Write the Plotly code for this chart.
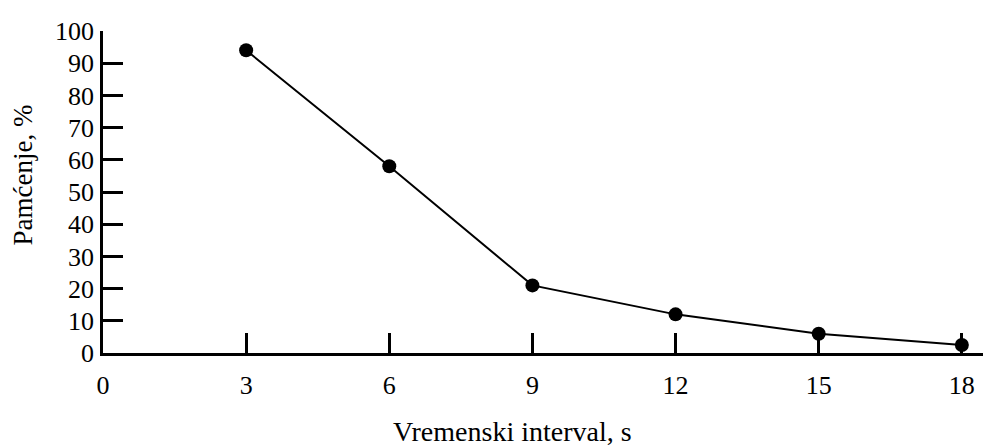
import plotly.graph_objects as go

x_vals = [3, 6, 9, 12, 15, 18]
y_vals = [94, 58, 21, 12, 6, 2.5]
x_ticks = [0, 3, 6, 9, 12, 15, 18]
y_ticks = [0, 10, 20, 30, 40, 50, 60, 70, 80, 90, 100]
x_title = "Vremenski interval, s"
y_title = "Pamćenje, %"

FONT = "Liberation Serif, Times New Roman, serif"
OFF = 8  # page body margin

W, H = 991, 448
L = 103 - OFF
T = 23 - OFF
R = W - (990 - OFF)
B = H - (353 - OFF)

fig = go.Figure()
fig.add_trace(go.Scatter(
    x=x_vals, y=y_vals, mode="lines+markers",
    line=dict(color="black", width=2),
    marker=dict(color="black", size=14),
    showlegend=False, hoverinfo="skip",
))

fig.update_layout(
    width=W, height=H,
    margin=dict(l=L, r=R, t=T, b=B),
    paper_bgcolor="white", plot_bgcolor="white",
    font=dict(family=FONT, size=26, color="black"),
    xaxis=dict(
        range=[0, 18.59], tickvals=x_ticks, ticktext=[str(v) for v in x_ticks],
        ticks="inside", ticklen=20, tickwidth=2.5, tickcolor="black",
        showline=True, linecolor="black", linewidth=2.5,
        showgrid=False, zeroline=False, ticklabelstandoff=7,
    ),
    yaxis=dict(
        range=[0, 100], tickvals=y_ticks, ticktext=[str(v) for v in y_ticks],
        ticks="inside", ticklen=20, tickwidth=2.5, tickcolor="black",
        showline=True, linecolor="black", linewidth=2.5,
        showgrid=False, zeroline=False, ticklabelstandoff=1,
    ),
)

pw = W - L - R
ph = H - T - B
def px(xs):
    return (xs - OFF - L) / pw
def py(ys):
    return (H - B - (ys - OFF)) / ph

fig.add_annotation(text=x_title, x=px(512), y=py(433), xref="paper", yref="paper",
                   showarrow=False, font=dict(size=28), xanchor="center", yanchor="middle")
fig.add_annotation(text=y_title, x=px(23), y=py(171), xref="paper", yref="paper",
                   showarrow=False, textangle=-90, font=dict(size=27),
                   xanchor="center", yanchor="middle")

fig.write_html("out.html")
